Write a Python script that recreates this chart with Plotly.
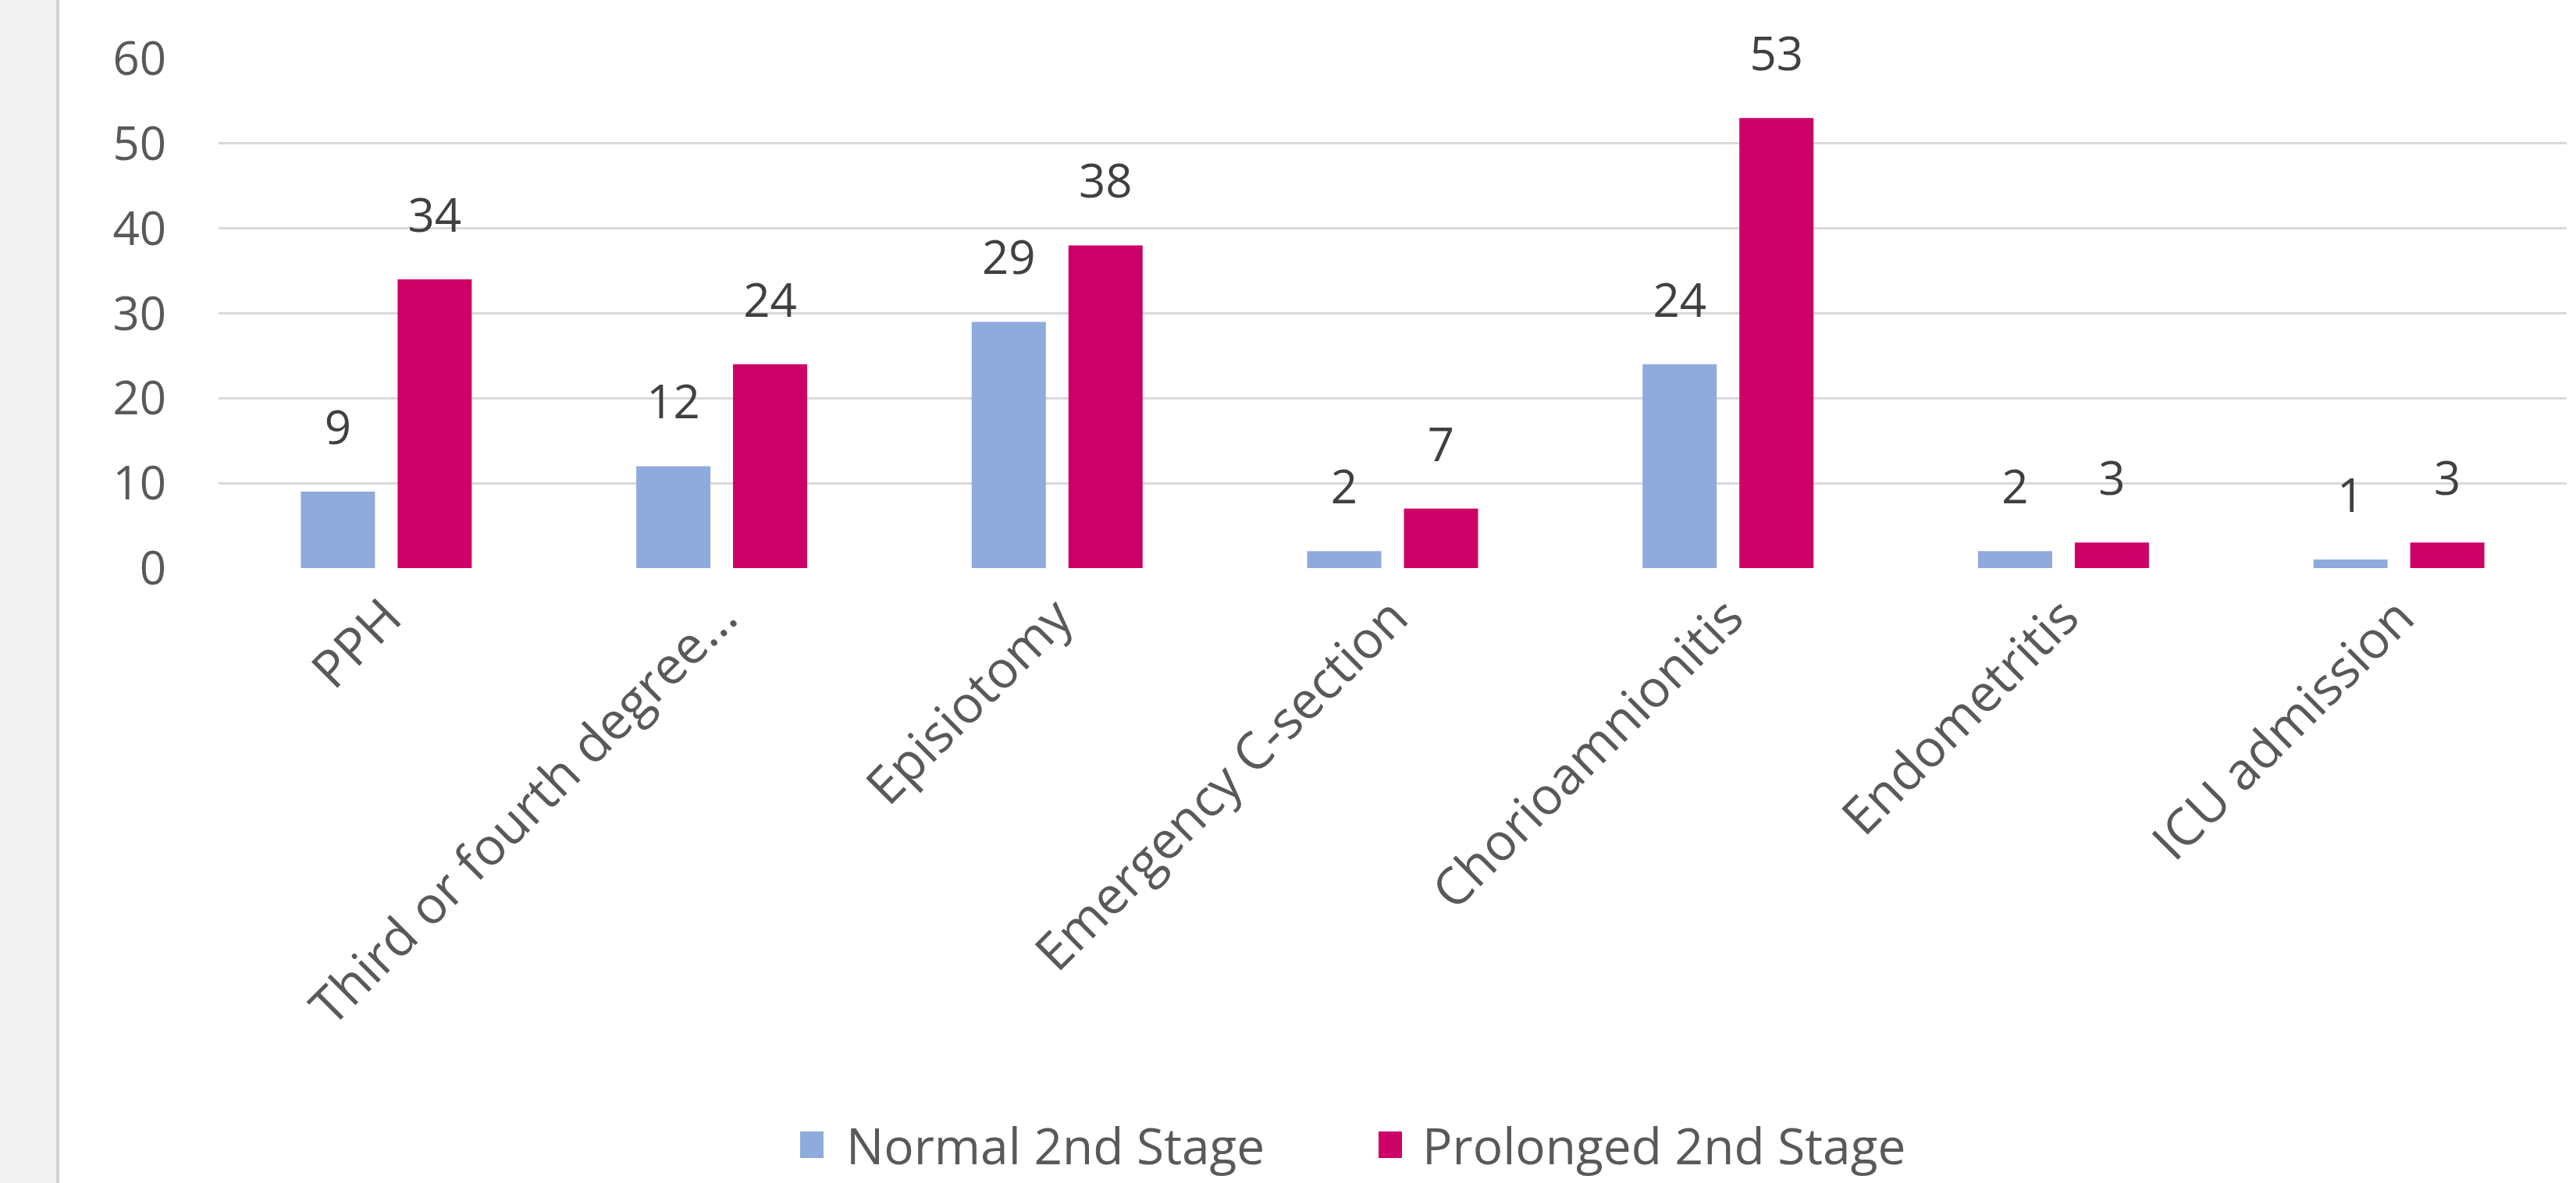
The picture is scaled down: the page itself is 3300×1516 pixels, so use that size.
import plotly.graph_objects as go

categories = ["PPH", "Third or fourth degree...", "Episiotomy", "Emergency C-section",
              "Chorioamnionitis", "Endometritis", "ICU admission"]
normal_vals = [9, 12, 29, 2, 24, 2, 1]
prolonged_vals = [34, 24, 38, 7, 53, 3, 3]
series_names = ["Normal 2nd Stage", "Prolonged 2nd Stage"]
y_ticks = [0, 10, 20, 30, 40, 50, 60]

W, H = 3300, 1516
ML, MR, MT, MB = 280, 12, 75, 788
PW = W - ML - MR
PH = H - MT - MB
FONT = "Open Sans"
BLUE = "#8FAADC"
RED = "#CC0066"
BARGAP = 0.423
GROUPGAP = 0.234


def px_x(p):
    return (p - ML) / PW


def px_y(p):
    return (H - MB - p) / PH


fig = go.Figure()
for name, vals, col, grp in [(series_names[0], normal_vals, BLUE, "a"),
                             (series_names[1], prolonged_vals, RED, "b")]:
    fig.add_trace(go.Bar(x=categories, y=vals, name=name, marker_color=col,
                         marker_line_width=0, offsetgroup=grp, hoverinfo="skip",
                         showlegend=False))
for vals, grp in [(normal_vals, "a"), (prolonged_vals, "b")]:
    fig.add_trace(go.Scatter(x=categories, y=vals, mode="text+markers", text=[str(v) for v in vals],
                             textposition="top center", offsetgroup=grp, showlegend=False,
                             marker=dict(size=72, opacity=0), cliponaxis=False, hoverinfo="skip",
                             textfont=dict(family=FONT, size=60, color="#404040")))

fig.update_layout(
    width=W, height=H,
    margin=dict(l=ML, r=MR, t=MT, b=MB, autoexpand=False),
    paper_bgcolor="white", plot_bgcolor="white",
    barmode="group", bargap=BARGAP, bargroupgap=GROUPGAP,
    scattermode="group", scattergap=BARGAP,
    font=dict(family=FONT, size=60, color="#595959"),
    showlegend=False,
)
fig.update_xaxes(type="category", showgrid=False, showline=False, zeroline=False,
                 tickangle=-45, tickfont=dict(family=FONT, size=66, color="#595959"),
                 ticklabelstandoff=10)
fig.update_yaxes(range=[0, 60], tickvals=y_ticks, showgrid=True, gridcolor="#D9D9D9", gridwidth=3,
                 zeroline=False, showline=False, ticklabelstandoff=66,
                 tickfont=dict(family=FONT, size=60, color="#595959"))

# left gray strip of the page
fig.add_shape(type="rect", xref="paper", yref="paper", x0=px_x(0), x1=px_x(74), y0=-2, y1=2,
              fillcolor="#F2F2F2", line_width=0, layer="below")
fig.add_shape(type="line", xref="paper", yref="paper", x0=px_x(74), x1=px_x(74), y0=-2, y1=2,
              line=dict(color="#D4D4D8", width=4))

# legend drawn as swatches + labels
LEG_Y = 1467
for name, col, sx, tx in [(series_names[0], BLUE, 1025, 1082), (series_names[1], RED, 1766, 1820)]:
    fig.add_shape(type="rect", xref="paper", yref="paper",
                  x0=px_x(sx), x1=px_x(sx + 30), y0=px_y(LEG_Y + 17), y1=px_y(LEG_Y - 17),
                  fillcolor=col, line_width=0)
    fig.add_annotation(xref="paper", yref="paper", x=px_x(tx), y=px_y(LEG_Y), text=name,
                       showarrow=False, xanchor="left", yanchor="middle",
                       font=dict(family=FONT, size=64, color="#595959"))

fig.write_html("out.html")
